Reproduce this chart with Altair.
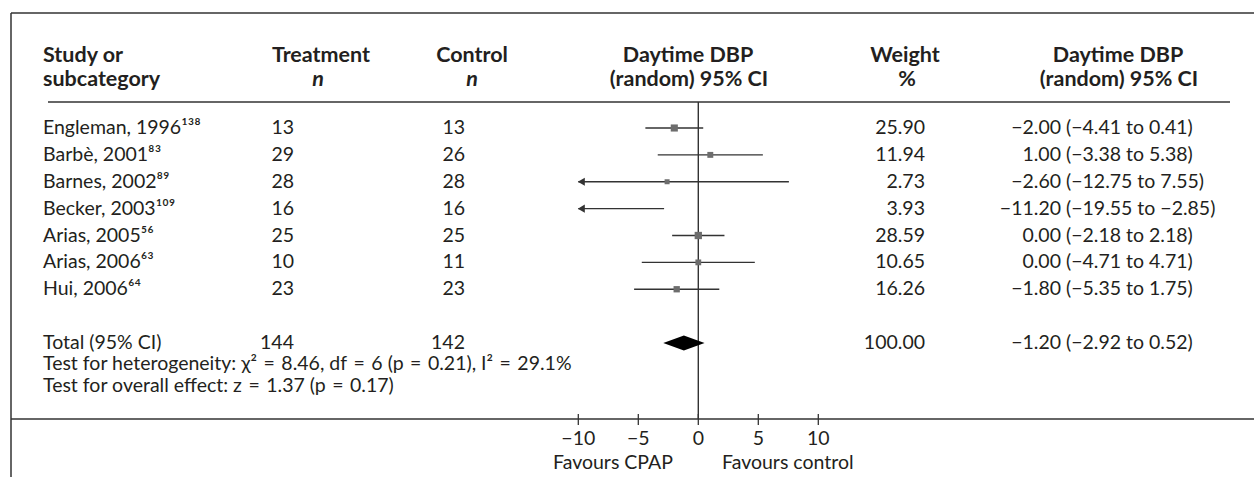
import altair as alt
import pandas as pd

# ---------------- data ----------------
studies = ["Engleman, 1996", "Barbè, 2001", "Barnes, 2002", "Becker, 2003",
           "Arias, 2005", "Arias, 2006", "Hui, 2006"]
refs = ["138", "83", "89", "109", "56", "63", "64"]
treat_n = [13, 29, 28, 16, 25, 10, 23]
ctrl_n = [13, 26, 28, 16, 25, 11, 23]
weight = [25.90, 11.94, 2.73, 3.93, 28.59, 10.65, 16.26]
est = [-2.00, 1.00, -2.60, -11.20, 0.00, 0.00, -1.80]
lo = [-4.41, -3.38, -12.75, -19.55, -2.18, -4.71, -5.35]
hi = [0.41, 5.38, 7.55, -2.85, 2.18, 4.71, 1.75]

total_label = "Total (95% CI)"
total_treat = 144
total_ctrl = 142
total_weight = 100.00
total_est = -1.20
total_lo = -2.92
total_hi = 0.52

heterogeneity = "Test for heterogeneity: χ² = 8.46, df = 6 (p = 0.21), I² = 29.1%"
overall = "Test for overall effect: z = 1.37 (p = 0.17)"

ticks = [-10, -5, 0, 5, 10]
plot_min, plot_max = -10, 10

# ---------------- styling ----------------
FONT = "Lato, 'Noto Sans', 'DejaVu Sans', sans-serif"
FS = 19.5
HFS = 21.5
TXT = "#231f20"
LINE = "#333333"
SQ = "#6d6d6d"

SUP = str.maketrans("0123456789", "⁰¹²³⁴⁵⁶⁷⁸⁹")


def fmt(v):
    return f"{v:.2f}".replace("-", "\u2212")


def mathspace(s):
    # wider spacing around "=" as in typeset math
    return s.replace(" = ", "\u2004=\u2004")


xs = alt.Scale(domain=[-698.3 / 12, (1254 - 698.3) / 12], range=[0, 1254], nice=False, zero=False)
ROW_H = 26.875
ys = alt.Scale(domain=[-128 / ROW_H, (420 - 128) / ROW_H], reverse=True, nice=False, zero=False)

n = len(studies)
TOTAL_ROW = n + 1

tab = pd.DataFrame({
    "row": list(range(n)) + [TOTAL_ROW],
    "name": [s + r.translate(SUP) for s, r in zip(studies, refs)] + [total_label],
    "tn": [str(v) for v in treat_n] + [str(total_treat)],
    "cn": [str(v) for v in ctrl_n] + [str(total_ctrl)],
    "w": [f"{v:.2f}" for v in weight] + [f"{total_weight:.2f}"],
    "e": [fmt(v) for v in est] + [fmt(total_est)],
    "ci": [f"({fmt(a)} to {fmt(b)})" for a, b in zip(lo, hi)] + [f"({fmt(total_lo)} to {fmt(total_hi)})"],
})

st = pd.DataFrame({"row": list(range(n)), "est": est, "lo": lo, "hi": hi, "weight": weight})
st["lo_c"] = st["lo"].clip(lower=plot_min, upper=plot_max)
st["hi_c"] = st["hi"].clip(lower=plot_min, upper=plot_max)
st_in = st[(st["est"] >= plot_min) & (st["est"] <= plot_max)]
st_arrow = st[st["lo"] < plot_min].assign(arrow=plot_min)

H = 7.5 / ROW_H
dia = pd.DataFrame({"x": [total_lo, total_est, total_hi],
                    "y": [TOTAL_ROW, TOTAL_ROW - H, TOTAL_ROW],
                    "y2": [TOTAL_ROW, TOTAL_ROW + H, TOTAL_ROW]})

tk = pd.DataFrame({"t": ticks, "lab": [str(t).replace("-", "\u2212") for t in ticks]})
zero = pd.DataFrame({"v": [0]})
one = pd.DataFrame({"a": [0]})


def hline(x1, x2, y):
    return alt.Chart(one).mark_rule(color=LINE, strokeWidth=1.5).encode(
        x=alt.value(x1), x2=alt.value(x2), y=alt.value(y))


def vline(x, y1, y2):
    return alt.Chart(one).mark_rule(color=LINE, strokeWidth=1.5).encode(
        x=alt.value(x), y=alt.value(y1), y2=alt.value(y2))


def label(s, x, y, align="left", bold=False, italic=False, size=FS, baseline="alphabetic"):
    kw = dict(font=FONT, fontSize=size, color=TXT, align=align, baseline=baseline, text=s)
    if bold:
        kw["fontWeight"] = "bold"
    if italic:
        kw["fontStyle"] = "italic"
    return alt.Chart(one).mark_text(**kw).encode(x=alt.value(x), y=alt.value(y))


def col(field, x, align):
    return alt.Chart(tab).mark_text(font=FONT, fontSize=FS, color=TXT, align=align, baseline="middle").encode(
        x=alt.value(x), y=alt.Y("row:Q", scale=ys, axis=None), text=f"{field}:N")


frame = [
    hline(11, 1254, 13),
    vline(11, 13, 477),
    hline(48, 1230, 102),
    hline(11, 1254, 419),
]

zero_line = alt.Chart(zero).mark_rule(color=LINE, strokeWidth=1.4).encode(
    x=alt.X("v:Q", scale=xs, axis=None), y=alt.value(102), y2=alt.value(419))

ci_lines = alt.Chart(st).mark_rule(color=LINE, strokeWidth=1.3).encode(
    x=alt.X("lo_c:Q", scale=xs, axis=None), x2="hi_c:Q", y=alt.Y("row:Q", scale=ys, axis=None))

arrows = alt.Chart(st_arrow).mark_point(shape="triangle-left", filled=True, color=LINE, opacity=1,
                                        size=65, xOffset=3).encode(
    x=alt.X("arrow:Q", scale=xs, axis=None), y=alt.Y("row:Q", scale=ys, axis=None))

squares = alt.Chart(st_in).mark_square(color=SQ, opacity=1).encode(
    x=alt.X("est:Q", scale=xs, axis=None), y=alt.Y("row:Q", scale=ys, axis=None),
    size=alt.Size("weight:Q", scale=alt.Scale(domain=[0, 30], range=[22, 55]), legend=None))

diamond = alt.Chart(dia).mark_area(color="#000000", orient="vertical", opacity=1).encode(
    x=alt.X("x:Q", scale=xs, axis=None), y=alt.Y("y:Q", scale=ys, axis=None), y2="y2:Q")

tick_marks = alt.Chart(tk).mark_rule(color=LINE, strokeWidth=1.3).encode(
    x=alt.X("t:Q", scale=xs, axis=None), y=alt.value(414), y2=alt.value(425))
tick_labels = alt.Chart(tk).mark_text(font=FONT, fontSize=FS, color=TXT, baseline="middle").encode(
    x=alt.X("t:Q", scale=xs, axis=None), y=alt.value(439), text="lab:N")

headers = [
    label("Study or", 43, 62, bold=True, size=HFS),
    label("subcategory", 43, 86, bold=True, size=HFS),
    label("Treatment", 321, 62, align="center", bold=True, size=HFS),
    label("n", 318, 86, align="center", bold=True, italic=True, size=HFS),
    label("Control", 472, 62, align="center", bold=True, size=HFS),
    label("n", 472, 86, align="center", bold=True, italic=True, size=HFS),
    label("Daytime DBP", 688, 62, align="center", bold=True, size=HFS),
    label("(random) 95% CI", 689, 86, align="center", bold=True, size=HFS),
    label("Weight", 905, 62, align="center", bold=True, size=HFS),
    label("%", 907, 86, align="center", bold=True, size=HFS),
    label("Daytime DBP", 1118, 62, align="center", bold=True, size=HFS),
    label("(random) 95% CI", 1119, 86, align="center", bold=True, size=HFS),
]

columns = [
    col("name", 43, "left"),
    col("tn", 294, "right"),
    col("cn", 465, "right"),
    col("w", 925, "right"),
    col("e", 1061, "right"),
    col("ci", 1066, "left"),
]

footer = [
    label(mathspace(heterogeneity), 43, 364, baseline="middle"),
    label(mathspace(overall), 43, 386, baseline="middle"),
    label("Favours CPAP", 673, 463, align="right", baseline="middle"),
    label("Favours control", 722, 463, align="left", baseline="middle"),
]

chart = alt.layer(
    *frame, zero_line, ci_lines, arrows, squares, diamond, tick_marks, tick_labels,
    *headers, *columns, *footer
).properties(
    width=1254, height=420,
    padding={"left": 0, "top": 0, "right": 0, "bottom": 57},
    autosize=alt.AutoSizeParams(type="none"),
    background="white",
).configure_view(stroke=None)

chart.save("out.html", embed_options={"renderer": "svg", "actions": False})
